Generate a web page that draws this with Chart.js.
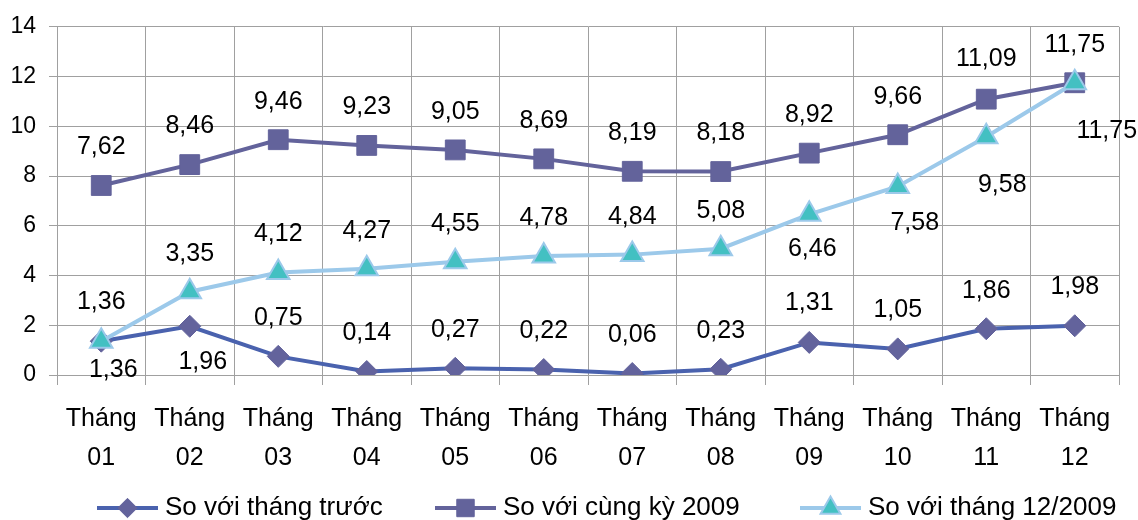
<!DOCTYPE html>
<html>
<head>
<meta charset="utf-8">
<script src="https://cdn.jsdelivr.net/npm/chart.js@4.4.1/dist/chart.umd.min.js"></script>
<style>
  html, body { margin: 0; padding: 0; background: #ffffff; }
  canvas { display: block; }
</style>
</head>
<body>
<canvas id="chart" width="1138" height="520"></canvas>
<script>
// Categories
const monthPrefix = 'Tháng';
const months = ['01', '02', '03', '04', '05', '06', '07', '08', '09', '10', '11', '12'];

// Series names
const seriesNames = ['So với tháng trước', 'So với cùng kỳ 2009', 'So với tháng 12/2009'];

// Series values (%)
const vsPrevMonth = [1.36, 1.96, 0.75, 0.14, 0.27, 0.22, 0.06, 0.23, 1.31, 1.05, 1.86, 1.98];
const vsSamePeriod2009 = [7.62, 8.46, 9.46, 9.23, 9.05, 8.69, 8.19, 8.18, 8.92, 9.66, 11.09, 11.75];
const vsDec2009 = [1.36, 3.35, 4.12, 4.27, 4.55, 4.78, 4.84, 5.08, 6.46, 7.58, 9.58, 11.75];

// Value axis ticks
const yTicks = [0, 2, 4, 6, 8, 10, 12, 14];

// Value-label placement relative to each point, [dx, dy] in px
const prevMonthLabelPos = [[12, 29], [13, 36], [0, -38], [0, -38], [0, -38], [0, -38], [0, -38], [0, -38], [0, -39], [0, -39], [0, -38], [0, -39]];
const samePeriodLabelPos = [[0, -38], [0, -38], [0, -38], [0, -38], [0, -38], [0, -38], [0, -38], [0, -38], [0, -38], [0, -38], [0, -40], [0, -38]];
const dec2009LabelPos = [[0, -39], [0, -38], [0, -38], [0, -38], [0, -38], [0, -38], [0, -38], [0, -38], [3, 35], [17, 37], [16, 48], [32, 48]];

const FONT = "'Liberation Sans', Arial, sans-serif";
const GRID = '#a0a0a0';

const fmt = v => v.toFixed(2).replace('.', ',');

// Draws the numeric value next to every point
const valueLabels = {
  id: 'valueLabels',
  afterDatasetsDraw(chart) {
    const ctx = chart.ctx;
    ctx.save();
    ctx.font = '25px ' + FONT;
    ctx.fillStyle = '#000000';
    ctx.textAlign = 'center';
    ctx.textBaseline = 'middle';
    chart.data.datasets.forEach((ds, di) => {
      const meta = chart.getDatasetMeta(di);
      meta.data.forEach((pt, i) => {
        const off = ds.labelPos[i];
        ctx.fillText(fmt(ds.data[i]), pt.x + off[0], pt.y + off[1]);
      });
    });
    ctx.restore();
  }
};

// Legend: line sample with marker, then series name
const lineLegend = {
  id: 'lineLegend',
  afterDraw(chart, args, opts) {
    const ctx = chart.ctx;
    const y = opts.y;
    ctx.save();
    chart.data.datasets.forEach((ds, di) => {
      const x0 = opts.starts[di];
      const x1 = x0 + opts.lineLength;
      ctx.strokeStyle = ds.borderColor;
      ctx.lineWidth = ds.borderWidth;
      ctx.beginPath();
      ctx.moveTo(x0, y);
      ctx.lineTo(x1, y);
      ctx.stroke();
      ctx.fillStyle = ds.pointBackgroundColor;
      ctx.strokeStyle = ds.pointBorderColor;
      ctx.lineWidth = ds.pointBorderWidth;
      Chart.helpers.drawPoint(ctx, {
        pointStyle: ds.pointStyle,
        radius: ds.pointRadius * 0.88,
        rotation: 0,
        borderWidth: ds.pointBorderWidth
      }, (x0 + x1) / 2, y);
      ctx.fillStyle = '#000000';
      ctx.font = '26px ' + FONT;
      ctx.textAlign = 'left';
      ctx.textBaseline = 'middle';
      ctx.fillText(ds.label, x1 + 7, y);
    });
    ctx.restore();
  }
};

new Chart(document.getElementById('chart'), {
  type: 'line',
  data: {
    labels: months.map(m => [monthPrefix, m]),
    datasets: [
      {
        label: seriesNames[0],
        data: vsPrevMonth,
        labelPos: prevMonthLabelPos,
        borderColor: '#4a62ae',
        borderWidth: 4,
        pointStyle: 'rectRot',
        pointRadius: 11,
        pointBackgroundColor: '#63639c',
        pointBorderColor: '#63639c',
        pointBorderWidth: 1,
        order: 2
      },
      {
        label: seriesNames[1],
        data: vsSamePeriod2009,
        labelPos: samePeriodLabelPos,
        borderColor: '#63639b',
        borderWidth: 4,
        pointStyle: 'rect',
        pointRadius: 14,
        pointBackgroundColor: '#63639b',
        pointBorderColor: '#63639b',
        pointBorderWidth: 1,
        order: 1
      },
      {
        label: seriesNames[2],
        data: vsDec2009,
        labelPos: dec2009LabelPos,
        borderColor: '#9cc9ea',
        borderWidth: 4,
        pointStyle: 'triangle',
        pointRadius: 13,
        pointBackgroundColor: '#43c0c2',
        pointBorderColor: '#9cc9ea',
        pointBorderWidth: 2,
        order: 0
      }
    ]
  },
  options: {
    responsive: false,
    animation: false,
    events: [],
    layout: { padding: { top: 24, right: 19, left: 0, bottom: 0 } },
    elements: { line: { tension: 0 } },
    plugins: {
      legend: { display: false },
      tooltip: { enabled: false },
      lineLegend: { y: 508, starts: [97, 435, 800], lineLength: 61 }
    },
    scales: {
      x: {
        offset: true,
        grid: { offset: true, color: GRID, lineWidth: 1, tickLength: 10, drawTicks: true },
        border: { color: GRID },
        ticks: {
          color: '#000000',
          font: { family: FONT, size: 25, lineHeight: 1.55 },
          padding: 15,
          maxRotation: 0,
          autoSkip: false
        },
        afterFit(scale) { scale.height = 145; }
      },
      y: {
        min: yTicks[0],
        max: yTicks[yTicks.length - 1],
        afterBuildTicks(scale) { scale.ticks = yTicks.map(v => ({ value: v })); },
        grid: { color: GRID, lineWidth: 1, tickLength: 8 },
        border: { color: GRID },
        ticks: {
          color: '#000000',
          font: { family: FONT, size: 23 },
          padding: 13
        },
        afterFit(scale) { scale.width = 57; }
      }
    }
  },
  plugins: [valueLabels, lineLegend]
});
</script>
</body>
</html>
